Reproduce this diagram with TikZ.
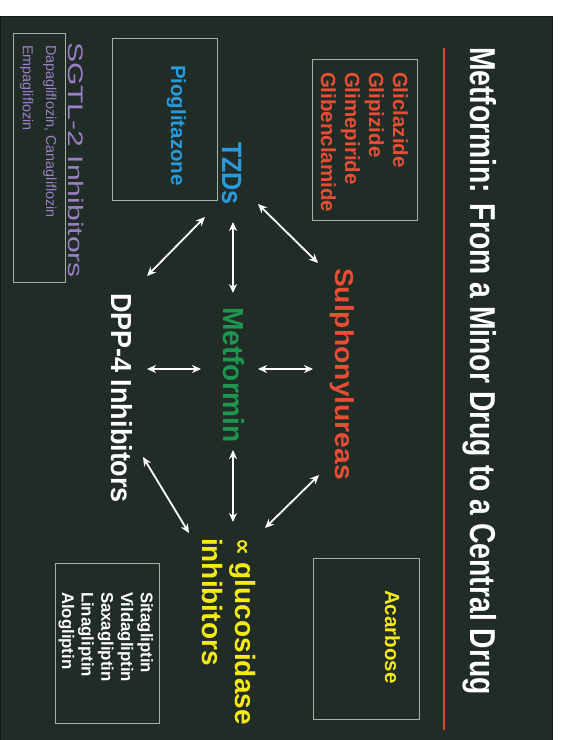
\documentclass[tikz,border=0pt]{standalone}
\usepackage{fontspec}
\setmainfont{Liberation Sans}
\newfontfamily\symfont{DejaVu Sans}
\usepackage{graphicx}
\usetikzlibrary{arrows.meta}
\definecolor{bg}{RGB}{33,44,39}
\definecolor{edge}{RGB}{20,26,24}
\definecolor{boxc}{RGB}{165,175,168}
\definecolor{redline}{RGB}{214,72,46}
\definecolor{sured}{RGB}{232,78,52}
\definecolor{tzblue}{RGB}{40,155,222}
\definecolor{metgreen}{RGB}{30,150,78}
\definecolor{ayellow}{RGB}{245,234,22}
\definecolor{sgpurple}{RGB}{155,128,200}
\tikzset{
  lbl/.style={rotate=-90, anchor=base west, inner sep=0pt, outer sep=0pt},
  blk/.style={rotate=-90, anchor=north west, inner sep=0pt, outer sep=0pt, align=left},
  box/.style={draw=boxc, line width=0.9pt},
  dbl/.style={white, line width=1.8pt, {Stealth[length=9pt,width=8pt]}-{Stealth[length=9pt,width=8pt]}},
}
\begin{document}
\begin{tikzpicture}[x=1pt,y=-1pt]
\useasboundingbox (0,0) rectangle (562,740);
\fill[white] (0,0) rectangle (562,740);
\fill[bg] (0,16) rectangle (553,740);
\draw[edge, line width=1pt] (0.5,740) -- (0.5,16.5) -- (552.5,16.5) -- (552.5,740);

% title and rule
\node[lbl, text=white, font=\bfseries\fontsize{36}{40}\selectfont] (title) at (470,47)
  {\resizebox{648pt}{\height}{Metformin: From a Minor Drug to a Central Drug}};
\draw[redline, line width=2pt] (444,48) -- (444,730);

% boxes
\draw[box] (312,59) rectangle (417,220);
\draw[box] (313,558) rectangle (419,719);
\draw[box] (112,38) rectangle (217,200);
\draw[box] (13,33) rectangle (65,282);
\draw[box] (55,563) rectangle (159,723);

% box contents
\node[blk, text=sured, font=\bfseries\fontsize{20.5}{24}\selectfont] (sulist) at (408,72)
  {Gliclazide\\Glipizide\\Glimepiride\\Glibenclamide};
\node[lbl, text=ayellow, font=\bfseries\fontsize{20.5}{24}\selectfont] (acarb) at (385,590) {Acarbose};
\node[lbl, text=tzblue, font=\bfseries\fontsize{20.5}{24}\selectfont] (pio) at (171,65) {Pioglitazone};
\node[blk, text=white, font=\bfseries\fontsize{16.8}{19.7}\selectfont] (glip) at (153,592)
  {Sitagliptin\\Vildagliptin\\Saxagliptin\\Linagliptin\\Alogliptin};
\node[lbl, text=sgpurple, font=\fontsize{21}{24}\selectfont] (sgtl) at (68,42)
  {\resizebox{236pt}{\height}{SGTL-2 Inhibitors}};
\node[lbl, text=sgpurple, font=\fontsize{14.4}{17}\selectfont] (dapa) at (46,45) {Dapagliflozin, Canagliflozin};
\node[lbl, text=sgpurple, font=\fontsize{14.4}{17}\selectfont] (empa) at (23,45) {Empagliflozin};

% central labels
\node[lbl, text=tzblue, font=\bfseries\fontsize{28}{32}\selectfont] (tzd) at (222,142)
  {\resizebox{63pt}{\height}{TZDs}};
\node[lbl, text=metgreen, font=\bfseries\fontsize{29}{32}\selectfont] (met) at (223,307)
  {\resizebox{136pt}{\height}{Metformin}};
\node[lbl, text=sured, font=\bfseries\fontsize{26}{30}\selectfont] (sul) at (335,268)
  {\resizebox{212pt}{\height}{Sulphonylureas}};
\node[lbl, text=white, font=\bfseries\fontsize{29}{32}\selectfont] (dpp) at (111,293)
  {\resizebox{210pt}{\height}{DPP-4 Inhibitors}};
\node[blk, text=ayellow, font=\bfseries\fontsize{28}{33}\selectfont] (agi) at (256,538)
  {{\symfont\fontsize{24}{33}\selectfont ∝} glucosidase\\inhibitors};

% arrow end points
\coordinate (a1) at (205,217); \coordinate (b1) at (147,276);
\coordinate (a2) at (233,222); \coordinate (b2) at (233,293);
\coordinate (a3) at (258,204); \coordinate (b3) at (318,263);
\coordinate (a4) at (147,369); \coordinate (b4) at (201,369);
\coordinate (a5) at (258,369); \coordinate (b5) at (313,369);
\coordinate (a6) at (233,450); \coordinate (b6) at (233,522);
\coordinate (a7) at (143,457); \coordinate (b7) at (189,533);
\coordinate (a8) at (319,475); \coordinate (b8) at (265,528);

\draw[dbl] (a1) -- (b1);
\draw[dbl] (a2) -- (b2);
\draw[dbl] (a3) -- (b3);
\draw[dbl] (a4) -- (b4);
\draw[dbl] (a5) -- (b5);
\draw[dbl] (a6) -- (b6);
\draw[dbl] (a7) -- (b7);
\draw[dbl] (a8) -- (b8);
\end{tikzpicture}
\end{document}
